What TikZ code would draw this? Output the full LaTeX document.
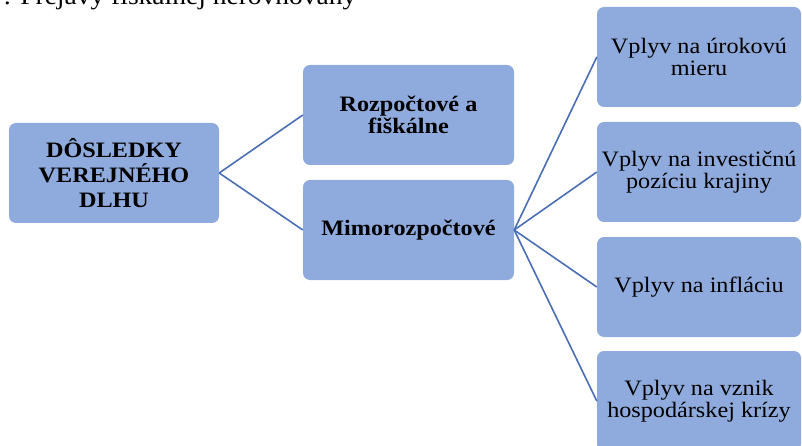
\documentclass[tikz,border=0pt]{standalone}
\usepackage{fontspec}
\setmainfont[FakeStretch=1.1]{Liberation Serif}
\definecolor{boxblue}{HTML}{8FAADC}
\definecolor{lineblue}{HTML}{4A6EB4}
\begin{document}
\begin{tikzpicture}[x=1pt,y=-1pt,
  box/.style={fill=boxblue, rounded corners=7pt, inner sep=0pt, align=center, text=black},
  leftbox/.style={box, minimum width=210pt, minimum height=100pt, font=\fontsize{22}{25}\selectfont\bfseries},
  midbox/.style={box, minimum width=211pt, minimum height=100pt, font=\fontsize{22}{22}\selectfont\bfseries},
  rightbox/.style={box, minimum width=204pt, minimum height=100pt, font=\fontsize{22}{22}\selectfont},
  conn/.style={draw=lineblue, line width=1.6pt}]
\useasboundingbox (0,0) rectangle (802,446);
\clip (0,0) rectangle (802,446);
\node[anchor=base west, font=\fontsize{25}{25}\selectfont] (cap) at (0,4.5) {: Prejavy fiškálnej nerovnováhy};
\node[leftbox] (a) at (114,173) {DÔSLEDKY\\VEREJNÉHO\\DLHU};
\node[midbox] (b) at (408.5,115) {Rozpočtové a\\fiškálne};
\node[midbox] (c) at (408.5,230) {Mimorozpočtové};
\node[rightbox] (r1) at (699,57) {Vplyv na úrokovú\\mieru};
\node[rightbox] (r2) at (699,172) {Vplyv na investičnú\\pozíciu krajiny};
\node[rightbox] (r3) at (699,287) {Vplyv na infláciu};
\node[rightbox] (r4) at (699,401) {Vplyv na vznik\\hospodárskej krízy};
\draw[conn] (a.east) -- (b.west);
\draw[conn] (a.east) -- (c.west);
\draw[conn] (c.east) -- (r1.west);
\draw[conn] (c.east) -- (r2.west);
\draw[conn] (c.east) -- (r3.west);
\draw[conn] (c.east) -- (r4.west);
\end{tikzpicture}
\end{document}
